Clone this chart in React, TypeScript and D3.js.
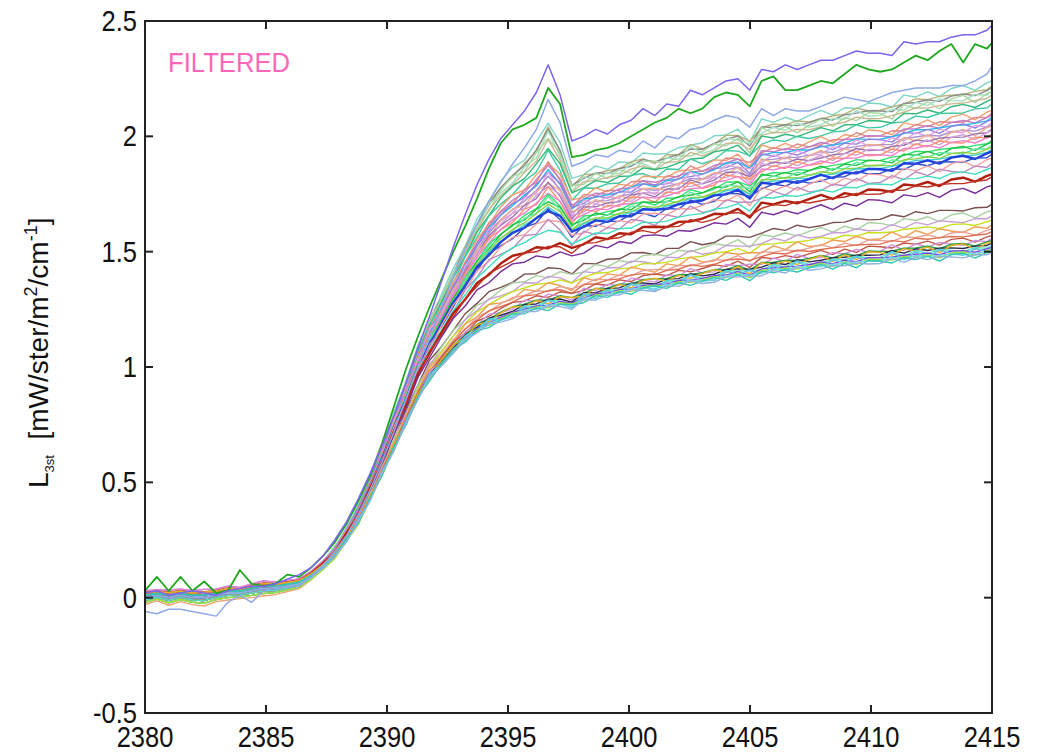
import React from "react";
import * as d3 from "d3";

// Spectral grid (cm^-1)
const WAVENUMBERS: number[] = d3.range(73).map((i) => 2380 + 0.49 * i);

const X_TICKS = [2380, 2385, 2390, 2395, 2400, 2405, 2410, 2415];
const X_LABELS = ["2380", "2385", "2390", "2395", "2400", "2405", "2410", "2415"];
const Y_TICKS = [-0.5, 0, 0.5, 1, 1.5, 2, 2.5];
const Y_LABELS = ["-0.5", "0", "0.5", "1", "1.5", "2", "2.5"];

// Three outlying spectra, listed point by point
const SPEC_PURPLE = [
  0.02, 0.03, 0.01, 0.02, 0.03, 0.02, 0.01, 0.03, 0.04, 0.05, 0.05, 0.06, 0.08, 0.1, 0.13,
  0.18, 0.25, 0.33, 0.43, 0.54, 0.66, 0.79, 0.93, 1.08, 1.22, 1.37, 1.52,
  1.66, 1.79, 1.9, 1.99, 2.05, 2.11, 2.19, 2.31, 2.18, 1.98,
  2.0, 2.03, 2.01, 2.05, 2.07, 2.12, 2.09, 2.14, 2.13, 2.2,
  2.18, 2.21, 2.24, 2.25, 2.2, 2.29, 2.28, 2.31, 2.29, 2.31,
  2.33, 2.33, 2.35, 2.37, 2.36, 2.36, 2.35, 2.41, 2.4, 2.41,
  2.41, 2.43, 2.44, 2.44, 2.46, 2.51,
];
const SPEC_GREEN = [
  0.03, 0.09, 0.03, 0.09, 0.03, 0.07, 0.02, 0.03, 0.12, 0.06, 0.05, 0.06, 0.1, 0.09, 0.13,
  0.18, 0.24, 0.32, 0.42, 0.53, 0.67, 0.83, 0.99, 1.13, 1.26, 1.38, 1.5,
  1.61, 1.73, 1.86, 1.97, 2.03, 2.05, 2.08, 2.21, 2.14, 1.91,
  1.92, 1.94, 1.95, 1.97, 2.0, 2.03, 2.06, 2.08, 2.12, 2.1,
  2.12, 2.17, 2.19, 2.18, 2.13, 2.24, 2.26, 2.2, 2.2, 2.22,
  2.24, 2.23, 2.27, 2.31, 2.29, 2.28, 2.29, 2.32, 2.35, 2.33,
  2.37, 2.4, 2.32, 2.4, 2.38, 2.44,
];
const SPEC_LIGHTBLUE = [
  -0.06, -0.07, -0.05, -0.05, -0.06, -0.07, -0.08, -0.02, 0.01, -0.02, 0.03, 0.045, 0.045, 0.05, 0.09,
  0.14, 0.2, 0.27, 0.36, 0.47, 0.59, 0.72, 0.86, 1.0, 1.13, 1.26, 1.39,
  1.51, 1.62, 1.72, 1.8, 1.88, 1.95, 2.03, 2.16, 2.06, 1.87,
  1.89, 1.92, 1.91, 1.94, 1.93, 1.98, 1.95, 2.0, 1.99, 2.03,
  2.04, 2.07, 2.09, 2.08, 2.04, 2.12, 2.09, 2.12, 2.11, 2.11,
  2.13, 2.15, 2.17, 2.16, 2.15, 2.17, 2.19, 2.2, 2.21, 2.21,
  2.21, 2.22, 2.22, 2.24, 2.27, 2.35,
];

// Lowest spectrum of the bundle
const BASE = [
  0.0, 0.01, 0.0, 0.01, 0.0, 0.0, 0.01, 0.02, 0.02, 0.03, 0.04, 0.04, 0.05, 0.06, 0.09,
  0.13, 0.18, 0.25, 0.33, 0.43, 0.54, 0.65, 0.76, 0.87, 0.96, 1.02, 1.08,
  1.13, 1.17, 1.2, 1.22, 1.24, 1.26, 1.27, 1.28, 1.29, 1.28,
  1.31, 1.32, 1.33, 1.34, 1.35, 1.36, 1.36, 1.37, 1.38, 1.39,
  1.39, 1.4, 1.41, 1.42, 1.41, 1.43, 1.44, 1.44, 1.45, 1.45,
  1.46, 1.46, 1.47, 1.47, 1.48, 1.48, 1.49, 1.49, 1.5, 1.5,
  1.5, 1.51, 1.51, 1.51, 1.52, 1.54,
];
// Shape of the spread above the lowest spectrum (1 at the band edge)
const RISE = [
  0, 0, 0, 0, 0, 0, 0, 0, 0, 0, 0, 0, 0, 0,
  0.01, 0.02, 0.04, 0.06, 0.09, 0.12, 0.16, 0.2, 0.25, 0.3, 0.35, 0.4, 0.47,
  0.54, 0.61, 0.67, 0.72, 0.75, 0.77, 0.78, 0.79, 0.78, 0.73,
  0.74, 0.75, 0.74, 0.75, 0.76, 0.78, 0.76, 0.78, 0.78, 0.81,
  0.8, 0.82, 0.84, 0.84, 0.8, 0.88, 0.87, 0.88, 0.87, 0.88,
  0.89, 0.89, 0.9, 0.92, 0.91, 0.91, 0.9, 0.94, 0.94, 0.95,
  0.95, 0.96, 0.97, 0.97, 0.98, 1.0,
];
// Emission peak near 2396.7 cm^-1
const SPIKE = [
  0, 0, 0, 0, 0, 0, 0, 0, 0, 0, 0, 0, 0, 0, 0,
  0, 0, 0, 0, 0, 0, 0, 0, 0, 0, 0, 0,
  0.05, 0.12, 0.2, 0.28, 0.33, 0.4, 0.62, 1.0, 0.52, 0,
  0, 0, 0, 0, 0, 0, 0, 0, 0, 0,
  0, 0, 0, 0, 0, 0, 0, 0, 0, 0,
  0, 0, 0, 0, 0, 0, 0, 0, 0, 0,
  0, 0, 0, 0, 0, 0,
];
// Point-to-point zigzag of individual spectra
const JITTER = [
  0, 0, 0, 0, 0, 0, 0, 0, 0, 0, 0, 0, 0, 0, 0,
  0.005, -0.005, 0.01, -0.01, 0.01, -0.01, 0.015, -0.01, 0.01, -0.015, 0.01, 0.015,
  -0.01, 0.01, -0.015, 0.01, 0.02, -0.01, 0.015, -0.02, 0.01, 0.02,
  -0.015, 0.02, -0.01, 0.015, -0.02, 0.01, 0.025, -0.01, 0.015, -0.02,
  0.01, 0.02, -0.015, 0.01, -0.02, 0.02, -0.01, 0.015, -0.02, 0.01,
  0.02, -0.015, 0.01, -0.02, 0.015, 0.01, -0.02, 0.02, -0.01, 0.015,
  -0.02, 0.01, 0.02, -0.015, 0.01, -0.01,
];
// Weight of each spectrum's offset in the flat low-radiance region
const LOWBAND = [
  1, 0.8, 1.1, 0.9, 1, 1.2, 0.9, 1, 0.8, 1, 1.1, 0.9, 0.8, 0.7, 0.6,
  0.5, 0.4, 0.35, 0.3, 0.25, 0.2, 0.15, 0.1, 0.05, 0, 0, 0,
  0, 0, 0, 0, 0, 0, 0, 0, 0, 0,
  0, 0, 0, 0, 0, 0, 0, 0, 0, 0,
  0, 0, 0, 0, 0, 0, 0, 0, 0, 0,
  0, 0, 0, 0, 0, 0, 0, 0, 0, 0,
  0, 0, 0, 0, 0, 0,
];

// Bundle spectra: level at 2415 cm^-1, peak strength, zigzag sign, low-band offset
const BUNDLE_END = [
  2.26, 2.24, 2.23, 2.22, 2.21, 2.2, 2.18, 2.16,
  2.13, 2.12, 2.11, 2.1, 2.09, 2.08, 2.07, 2.06, 2.05, 2.04, 2.03, 2.02,
  2.0, 1.99, 1.98, 1.97, 1.96, 1.95, 1.94, 1.92, 1.9, 1.88,
  1.85, 1.84, 1.8, 1.72, 1.69, 1.67, 1.65, 1.63, 1.61, 1.6,
  1.58, 1.57, 1.56, 1.55, 1.55, 1.54, 1.53, 1.53, 1.52, 1.52, 1.51, 1.51,
];
const BUNDLE_PEAK = [
  0.22, 0.2, 0.21, 0.19, 0.2, 0.18, 0.17, 0.16,
  0.15, 0.14, 0.15, 0.13, 0.14, 0.12, 0.13, 0.12, 0.11, 0.12, 0.1, 0.1,
  0.1, 0.09, 0.1, 0.09, 0.08, 0.08, 0.08, 0.07, 0.06, 0.05,
  0, 0, 0, 0, 0, 0, 0, 0, 0, 0,
  0, 0, 0, 0, 0, 0, 0, 0, 0, 0, 0, 0,
];
const BUNDLE_ZIGZAG = [
  0.6, -0.4, 0.2, -0.8, 0.9, -0.3, 0.4, -0.5,
  0.7, -0.6, 0.3, -0.2, 0.5, -0.9, 0.1, 0.8, -0.4, 0.6, -0.7, 0.3,
  -0.3, 0.5, -0.6, 0.2, -0.1, 0.4, -0.5, 0.7, -0.8, 0.3,
  0.5, -0.3, 0.6, -0.4, 0.6, -0.5, 0.2, -0.7, 0.4, -0.2,
  0.5, -0.6, 0.3, -0.3, 0.7, -0.5, 0.2, -0.8, 0.4, -0.2, 0.6, -0.4,
];
const BUNDLE_LOW = [
  0.02, -0.01, 0.0, 0.03, -0.02, 0.01, 0.0, 0.02,
  -0.03, 0.01, 0.02, -0.01, 0.03, 0.0, -0.02, 0.01, 0.02, -0.01, 0.0, 0.03,
  -0.02, 0.01, 0.0, 0.02, -0.01, 0.0, 0.01, 0.02, -0.01, 0.0,
  0.02, 0.0, -0.01, 0.01, 0.0, 0.02, -0.01, 0.01, 0.0, 0.02,
  -0.01, 0.0, 0.01, 0.0, 0.02, -0.01, 0.0, 0.01, -0.02, 0.0, 0.01, 0.0,
];
const BUNDLE_COLORS = [
  "#7fd6c8", "#b4b478", "#8a8a8a", "#9fe0c0", "#a8d8a0", "#c8b890", "#30b878", "#40c8a0",
  "#f0a070", "#e08888", "#c07cc8", "#28b8e8", "#9080e0", "#e8a0e8", "#b090d0", "#f0b090",
  "#a070b0", "#d0a0d8", "#ff9070", "#f080d0",
  "#30e070", "#20c040", "#60e8a0", "#90d040", "#40d0d0", "#2040e0", "#3050d0", "#f8a0a0",
  "#c088c0", "#40e0c0",
  "#b02010", "#c03020", "#7a2c9a", "#7a5050", "#a8d0a0", "#c8a0d8", "#c8e020", "#f0a050",
  "#e8a098", "#e07050",
  "#c05848", "#d090e0", "#30a040", "#2a2a50", "#e0b020", "#50e0d0", "#8040e0", "#60c0e0",
  "#a0e040", "#70d8e8", "#30c8b0", "#90b0e0",
];
const BUNDLE_WIDTHS = BUNDLE_COLORS.map((c) => (c === "#2040e0" || c === "#b02010" ? 2.4 : 1.4));

const W = 1040;
const H = 752;
const PLOT = { left: 145, right: 992, top: 21, bottom: 713 };
const TICK_FONT = "'Liberation Sans', Arial, Helvetica, sans-serif";

export default function App() {
  const x = d3.scaleLinear().domain([2380, 2415]).range([PLOT.left, PLOT.right]);
  const y = d3.scaleLinear().domain([-0.5, 2.5]).range([PLOT.bottom, PLOT.top]);
  const line = d3
    .line<number>()
    .x((_, i) => x(WAVENUMBERS[i]))
    .y((d) => y(d));

  const last = BASE.length - 1;
  const bundle = BUNDLE_END.map((end, k) =>
    WAVENUMBERS.map(
      (_, i) =>
        BASE[i] +
        (end - BASE[last]) * RISE[i] +
        BUNDLE_PEAK[k] * SPIKE[i] +
        BUNDLE_ZIGZAG[k] * JITTER[i] +
        BUNDLE_LOW[k] * LOWBAND[i]
    )
  );

  const tickLen = 8;

  return (
    <svg
      width={W}
      height={H}
      style={{ position: "absolute", left: 0, top: 0, background: "#fff" }}
    >
      <defs>
        <clipPath id="plot-area">
          <rect x={PLOT.left} y={PLOT.top} width={PLOT.right - PLOT.left} height={PLOT.bottom - PLOT.top} />
        </clipPath>
      </defs>

      <g clipPath="url(#plot-area)" fill="none" strokeLinejoin="round">
        {bundle.map((vals, k) => (
          <path key={k} d={line(vals) ?? ""} stroke={BUNDLE_COLORS[k]} strokeWidth={BUNDLE_WIDTHS[k]} />
        ))}
        <path d={line(SPEC_LIGHTBLUE) ?? ""} stroke="#8fa8e6" strokeWidth={1.5} />
        <path d={line(SPEC_GREEN) ?? ""} stroke="#1fa81f" strokeWidth={1.8} />
        <path d={line(SPEC_PURPLE) ?? ""} stroke="#7d64ee" strokeWidth={1.5} />
      </g>

      {/* axes box */}
      <rect
        x={PLOT.left}
        y={PLOT.top}
        width={PLOT.right - PLOT.left}
        height={PLOT.bottom - PLOT.top}
        fill="none"
        stroke="#222"
        strokeWidth={2}
      />

      {/* ticks on all four sides */}
      <g stroke="#222" strokeWidth={2}>
        {X_TICKS.map((t) => (
          <g key={"xt" + t}>
            <line x1={x(t)} x2={x(t)} y1={PLOT.bottom} y2={PLOT.bottom - tickLen} />
            <line x1={x(t)} x2={x(t)} y1={PLOT.top} y2={PLOT.top + tickLen} />
          </g>
        ))}
        {Y_TICKS.map((t) => (
          <g key={"yt" + t}>
            <line x1={PLOT.left} x2={PLOT.left + tickLen} y1={y(t)} y2={y(t)} />
            <line x1={PLOT.right} x2={PLOT.right - tickLen} y1={y(t)} y2={y(t)} />
          </g>
        ))}
      </g>

      {/* tick labels */}
      <g fontFamily={TICK_FONT} fontSize={29} fill="#111">
        {X_TICKS.map((t, i) => (
          <text key={"xl" + t} transform={`translate(${x(t)},747) scale(0.88,1)`} textAnchor="middle">
            {X_LABELS[i]}
          </text>
        ))}
        {Y_TICKS.map((t, i) => (
          <text key={"yl" + t} transform={`translate(137,${y(t) + 10}) scale(0.88,1)`} textAnchor="end">
            {Y_LABELS[i]}
          </text>
        ))}
      </g>

      {/* y-axis title */}
      <text
        transform="translate(48,488) rotate(-90)"
        fontFamily={TICK_FONT}
        fontSize={28}
        fill="#111"
        textAnchor="start"
      >
        <tspan>L</tspan>
        <tspan fontSize={13} dy={6}>3st</tspan>
        <tspan dy={-6}>{"\u00a0\u00a0[mW/ster/m"}</tspan>
        <tspan fontSize={18} dy={-11}>2</tspan>
        <tspan dy={11}>/cm</tspan>
        <tspan fontSize={18} dy={-11}>-1</tspan>
        <tspan dy={11}>]</tspan>
      </text>

      <text
        x={168}
        y={72}
        fontFamily={TICK_FONT}
        fontSize={27}
        fill="#ff66bb"
        textLength={122}
        lengthAdjust="spacingAndGlyphs"
      >
        FILTERED
      </text>
    </svg>
  );
}
